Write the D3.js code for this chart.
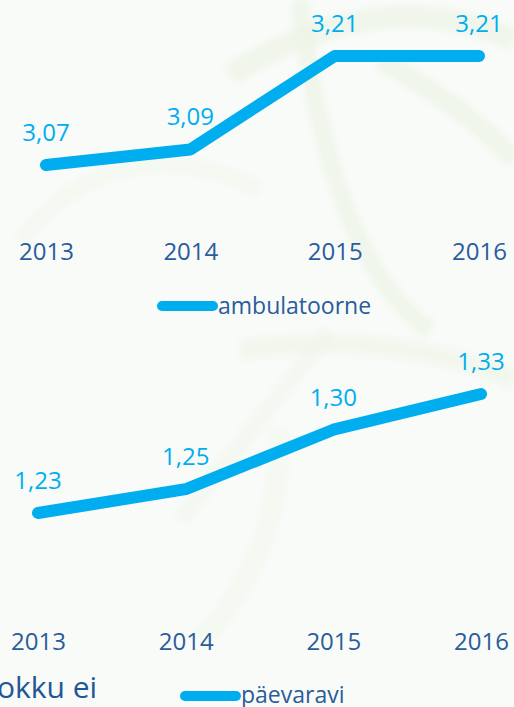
<!DOCTYPE html>
<html>
<head>
<meta charset="utf-8">
<script src="https://cdn.jsdelivr.net/npm/d3@7"></script>
<style>
  html, body { margin: 0; padding: 0; background: #f8fbf8; overflow: hidden; }
  svg { display: block; }
  text { font-family: "Open Sans", "Noto Sans", sans-serif; }
</style>
</head>
<body>
<svg id="chart" width="514" height="707"></svg>
<script>
// ---- data ----
const years = ["2013", "2014", "2015", "2016"];
const ambulatoorne = [3.07, 3.09, 3.21, 3.21];
const paevaravi = [1.23, 1.25, 1.30, 1.33];
const seriesNames = ["ambulatoorne", "päevaravi"];
const footerText = "okku ei";

const lineColor = "#00aeef";
const axisColor = "#2b5c9b";

const svg = d3.select("#chart");

// faint decorative background
const defs = svg.append("defs");
defs.append("filter").attr("id", "blur").append("feGaussianBlur").attr("stdDeviation", 3);
svg.append("rect").attr("width", 514).attr("height", 707).attr("fill", "#f8fbf8");
const bg = svg.append("g").attr("fill", "none").attr("stroke", "#edf4e5")
  .attr("stroke-opacity", 0.7).attr("filter", "url(#blur)");
bg.append("path").attr("d", "M 230 75 Q 380 -20 514 40").attr("stroke-width", 22);
bg.append("path").attr("d", "M 300 0 Q 330 260 430 330").attr("stroke-width", 18);
bg.append("path").attr("d", "M 380 60 Q 470 110 514 160").attr("stroke-width", 20);
bg.append("path").attr("d", "M 20 240 Q 120 120 260 190").attr("stroke-width", 16).attr("stroke-opacity", 0.4);
bg.append("path").attr("d", "M 240 350 Q 400 330 514 380").attr("stroke-width", 20).attr("stroke-opacity", 0.5);
bg.append("path").attr("d", "M 180 520 Q 260 420 330 330").attr("stroke-width", 18).attr("stroke-opacity", 0.35);
bg.append("path").attr("d", "M 200 640 Q 280 560 280 430").attr("stroke-width", 20).attr("stroke-opacity", 0.4);

const fmt = v => d3.format(".2f")(v).replace(".", ",");

function drawChart(values, name, cfg) {
  const x = d3.scalePoint().domain(years).range(cfg.xRange);
  const y = d3.scaleLinear().domain(cfg.yDomain).range(cfg.yRange);
  const g = svg.append("g");

  const line = d3.line()
    .x((d, i) => x(years[i]))
    .y(d => y(d));

  g.append("path")
    .datum(values)
    .attr("d", line)
    .attr("fill", "none")
    .attr("stroke", lineColor)
    .attr("stroke-width", 12)
    .attr("stroke-linecap", "round")
    .attr("stroke-linejoin", "round");

  g.selectAll("text.val")
    .data(values)
    .join("text")
    .attr("class", "val")
    .attr("x", (d, i) => x(years[i]))
    .attr("y", d => y(d) - 24)
    .attr("text-anchor", "middle")
    .attr("font-size", 24)
    .attr("fill", lineColor)
    .text(d => fmt(d));

  const axis = d3.axisBottom(x).tickSize(0).tickPadding(0);
  const ag = g.append("g")
    .attr("transform", `translate(0,${cfg.axisY})`)
    .call(axis);
  ag.select(".domain").remove();
  ag.selectAll("text")
    .attr("dy", 0)
    .attr("y", 0)
    .attr("font-size", 24)
    .attr("fill", axisColor)
    .attr("font-family", "\"Open Sans\", \"Noto Sans\", sans-serif");

  // legend
  const lg = g.append("g");
  lg.append("line")
    .attr("x1", cfg.legend[0]).attr("x2", cfg.legend[1])
    .attr("y1", cfg.legend[2]).attr("y2", cfg.legend[2])
    .attr("stroke", lineColor)
    .attr("stroke-width", 10)
    .attr("stroke-linecap", "round");
  lg.append("text")
    .attr("x", cfg.legend[1] + 5)
    .attr("y", cfg.legend[3])
    .attr("font-size", 23)
    .attr("fill", axisColor)
    .text(name);
}

drawChart(ambulatoorne, seriesNames[0], {
  xRange: [46, 479],
  yDomain: [3.07, 3.21],
  yRange: [165, 56],
  axisY: 260,
  legend: [162, 213, 306, 314]
});

drawChart(paevaravi, seriesNames[1], {
  xRange: [38, 481],
  yDomain: [1.23, 1.33],
  yRange: [513, 394],
  axisY: 650,
  legend: [185, 236, 696, 703]
});

svg.append("text")
  .attr("x", -3)
  .attr("y", 698)
  .attr("font-size", 30)
  .attr("fill", "#1f5796")
  .text(footerText);
</script>
</body>
</html>
